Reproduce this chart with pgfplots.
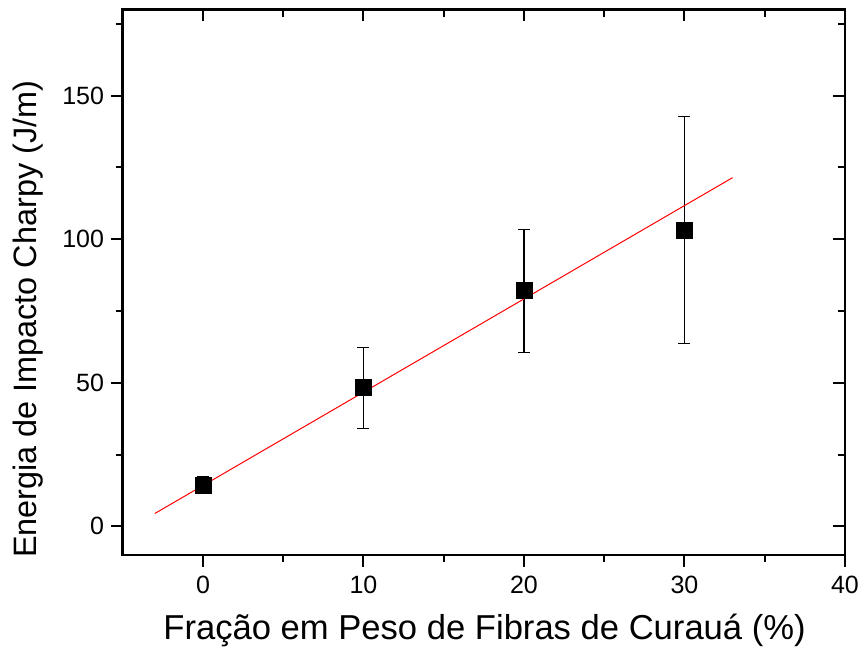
\documentclass[border=0pt]{standalone}
\usepackage{fontspec}
\setmainfont{Liberation Sans}
\usepackage{pgfplots}
\pgfplotsset{compat=1.18}
\pgfplotsset{
  common/.style={
    width=361.15pt, height=272.75pt, scale only axis,
    xmin=-5, xmax=40, ymin=-10, ymax=180,
    xtick={0,10,20,30,40}, ytick={0,50,100,150},
    minor xtick={5,15,25,35}, minor ytick={25,75,125,175},
    axis line style={line width=1.2pt},
    major tick length=5.8pt, minor tick length=3.5pt,
    every tick/.style={black, line width=1pt},
  }
}
\begin{document}
\begin{tikzpicture}
\useasboundingbox (-61.35pt,-47.5pt) rectangle (369.65pt,277.5pt);
\begin{axis}[common,
  tick align=outside, xtick pos=left, ytick pos=left,
  /pgf/number format/assume math mode=true,
  tick label style={font=\fontsize{12.5}{14}\selectfont},
  xticklabel style={yshift=-1pt},
  xlabel={Fração em Peso de Fibras de Curauá (\%)},
  ylabel={Energia de Impacto Charpy (J/m)},
  xlabel style={at={(axis description cs:0.501,-0.154)}, anchor=base,
    font=\fontsize{17.3}{20}\selectfont},
  ylabel style={at={(axis description cs:-0.12,0.432)}, anchor=base,
    font=\fontsize{16.2}{19}\selectfont},
]
% mean impact energy with standard deviation
\addplot[only marks, mark=square*, mark size=4pt, black,
  error bars/.cd, y dir=both, y explicit,
  error bar style={line width=0.6pt, black},
  error mark options={rotate=90, mark size=3pt, line width=0.6pt}]
  table[x=x, y=y, y error=e] {
  x   y      e
  0   14.3   3.0
  10  48.3   14.1
  20  82.0   21.5
  30  103.2  39.5
};
% linear fit
\addplot[red, line width=0.5pt] coordinates {(-3,4.45) (33,121.45)};
\end{axis}
\begin{axis}[common, tick align=inside, xtick pos=right, ytick pos=right,
  xticklabels={}, yticklabels={}]
\end{axis}
\end{tikzpicture}
\end{document}
